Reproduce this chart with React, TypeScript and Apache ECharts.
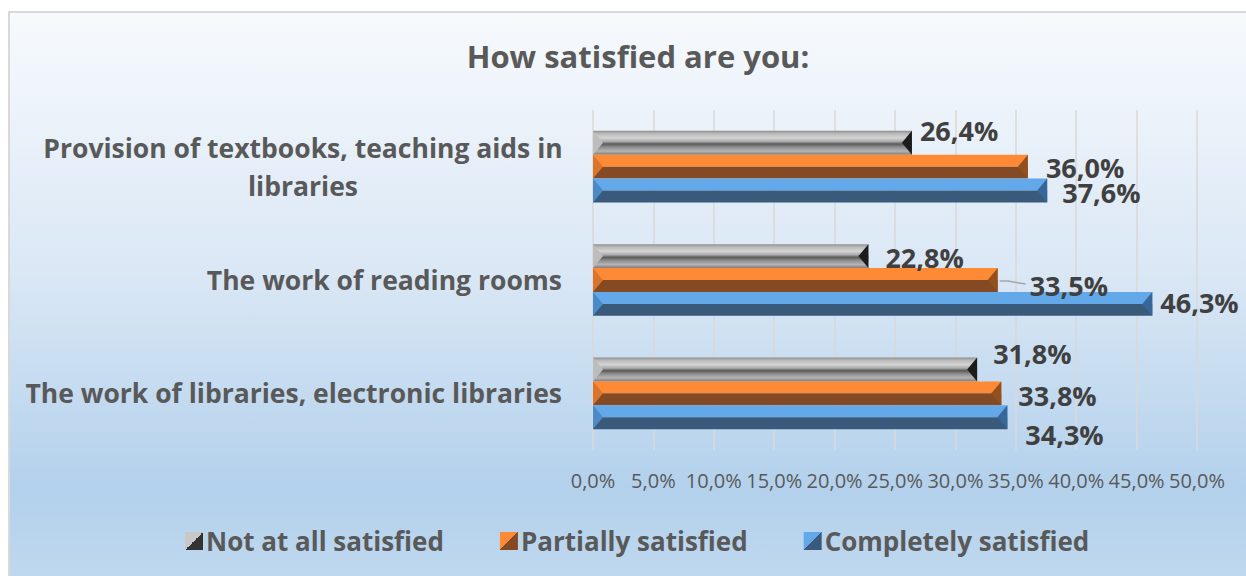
import React, { useEffect, useRef } from "react";
import * as echarts from "echarts";

const chartTitle = "How satisfied are you:";
const categories = [
  "Provision of textbooks, teaching aids in\nlibraries",
  "The work of reading rooms",
  "The work of libraries, electronic libraries",
];
const seriesNames = ["Not at all satisfied", "Partially satisfied", "Completely satisfied"];
const notAtAllSatisfied = [26.4, 22.8, 31.8];
const partiallySatisfied = [36.0, 33.5, 33.8];
const completelySatisfied = [37.6, 46.3, 34.3];
const axisMin = 0;
const axisMax = 50;
const axisStep = 5;

// label nudges (pixels) per series, per category, to mimic the hand-placed labels
const labelNudges = [
  [{ dx: 8, dy: -12 }, { dx: 17, dy: 1 }, { dx: 16, dy: -16 }],
  [{ dx: 18, dy: 1 }, { dx: 32, dy: 5, leader: true }, { dx: 17, dy: 2 }],
  [{ dx: 15, dy: 2 }, { dx: 8, dy: -1 }, { dx: 18, dy: 17 }],
];

const FONT = "'Open Sans', Lato, sans-serif";
const fmtPct = (v: number) => v.toFixed(1).replace(".", ",") + "%";

const grayGrad = () =>
  new echarts.graphic.LinearGradient(0, 0, 0, 1, [
    { offset: 0, color: "#8e8e8e" },
    { offset: 0.12, color: "#b9b9b9" },
    { offset: 0.3, color: "#d4d4d4" },
    { offset: 0.45, color: "#a9a9a9" },
    { offset: 0.55, color: "#5a5a5a" },
    { offset: 0.68, color: "#8c8c8c" },
    { offset: 0.85, color: "#b4b4b4" },
    { offset: 1, color: "#7c7c7c" },
  ]);

const palettes = [
  { top: null, bottom: null, left: "#bdbdbd", right: "#1c1c1c", legend: ["#c8c8c8", "#333333"] },
  { top: "#fe8a36", bottom: "#844a23", left: "#db752d", right: "#93501f", legend: ["#fe8a36", "#844a23"] },
  { top: "#63a8e8", bottom: "#3a5a7b", left: "#4b8ac6", right: "#37679a", legend: ["#63a8e8", "#3a5a7b"] },
];

const diagGrad = (c: string[]) =>
  new echarts.graphic.LinearGradient(0, 0, 1, 1, [
    { offset: 0, color: c[0] },
    { offset: 0.5, color: c[0] },
    { offset: 0.5, color: c[1] },
    { offset: 1, color: c[1] },
  ]);

const makeRender = (s: number) => (params: any, api: any) => {
  const val = api.value(0);
  const cat = api.value(1);
  const p0 = api.coord([0, cat]);
  const p1 = api.coord([val, cat]);
  const band = api.size([0, 1])[1];
  const h = band * 0.211;
  const top = p0[1] - 1.5 * h + s * h;
  const bot = top + h;
  const mid = top + h / 2;
  const x0 = p0[0];
  const x1 = p1[0];
  const e = 10;
  const pal = palettes[s];
  const children: any[] = [];
  if (s === 0) {
    children.push({ type: "rect", shape: { x: x0, y: top, width: x1 - x0, height: h }, style: { fill: grayGrad() } });
  } else {
    children.push({ type: "rect", shape: { x: x0, y: top, width: x1 - x0, height: h / 2 }, style: { fill: pal.top } });
    children.push({ type: "rect", shape: { x: x0, y: mid, width: x1 - x0, height: h / 2 }, style: { fill: pal.bottom } });
  }
  children.push({ type: "polygon", shape: { points: [[x0, top], [x0 + e, mid], [x0, bot]] }, style: { fill: pal.left } });
  children.push({ type: "polygon", shape: { points: [[x1, top], [x1 - e, mid], [x1, bot]] }, style: { fill: pal.right } });
  const n = labelNudges[s][cat] as any;
  const cy = (top + bot) / 2;
  if (n.leader) {
    children.push({
      type: "polyline",
      z2: 100,
      shape: { points: [[x1 + 2, cy + 1], [x1 + 10, cy + 1], [x1 + n.dx - 4, cy + n.dy - 1]] },
      style: { stroke: "#a6a6a6", lineWidth: 1.5, fill: "none" },
    });
  }
  children.push({
    type: "text",
    z2: 100,
    x: x1 + n.dx,
    y: cy + n.dy,
    style: {
      text: fmtPct(val),
      fill: "#404040",
      font: `bold 27px ${FONT}`,
      align: "left",
      verticalAlign: "middle",
    },
  });
  return { type: "group", children };
};

const seriesData = [notAtAllSatisfied, partiallySatisfied, completelySatisfied];

export default function App() {
  const ref = useRef<HTMLDivElement>(null);
  useEffect(() => {
    if (!ref.current) return;
    const chart = echarts.init(ref.current, undefined, { renderer: "svg" });
    chart.setOption({
      animation: false,
      backgroundColor: "#ffffff",
      graphic: [
        {
          type: "rect",
          z: -100,
          silent: true,
          shape: { x: 9, y: 12, width: 1260, height: 580 },
          style: {
            stroke: "#d9d9d9",
            lineWidth: 2,
            fill: new echarts.graphic.LinearGradient(0, 0, 0, 1, [
              { offset: 0, color: "#f7fafd" },
              { offset: 0.45, color: "#dae7f5" },
              { offset: 0.82, color: "#b3d1ec" },
              { offset: 1, color: "#c0d9ef" },
            ]),
          },
        },
      ],
      title: {
        text: chartTitle,
        left: 633,
        textAlign: "center",
        top: 35,
        textStyle: { fontFamily: FONT, fontSize: 31, fontWeight: "bold", color: "#595959" },
      },
      legend: {
        left: 180,
        top: 523,
        itemWidth: 18,
        itemHeight: 18,
        itemGap: 56,
        icon: "rect",
        textStyle: { fontFamily: FONT, fontSize: 26, fontWeight: "bold", color: "#595959", padding: [0, 0, 0, -2] },
        data: seriesNames.map((name, i) => ({ name, itemStyle: { color: diagGrad(palettes[i].legend) } })),
      },
      grid: { left: 593, right: 49, top: 110, bottom: 126, containLabel: false },
      xAxis: {
        type: "value",
        min: axisMin,
        max: axisMax,
        interval: axisStep,
        axisLine: { show: false },
        axisTick: { show: false },
        splitLine: { show: true, lineStyle: { color: "#d9d9d9", width: 1.5 } },
        axisLabel: {
          formatter: (v: number) => fmtPct(v),
          fontFamily: FONT,
          fontSize: 20,
          color: "#595959",
          margin: 20,
        },
      },
      yAxis: {
        type: "category",
        data: categories,
        inverse: true,
        axisLine: { show: false },
        axisTick: { show: false },
        axisLabel: {
          margin: 31,
          fontFamily: FONT,
          fontSize: 26.5,
          fontWeight: "bold",
          color: "#595959",
          lineHeight: 38,
          formatter: (v: string) =>
            v.includes("\n") ? v.split("\n").map((l) => `{w|${l}}`).join("\n") : v,
          rich: {
            w: {
              width: 518,
              align: "center",
              fontFamily: FONT,
              fontSize: 26.5,
              fontWeight: "bold",
              color: "#595959",
              lineHeight: 38,
            },
          },
        },
      },
      series: seriesData.map((vals, s) => ({
        type: "custom",
        name: seriesNames[s],
        coordinateSystem: "cartesian2d",
        encode: { x: 0, y: 1 },
        itemStyle: { color: diagGrad(palettes[s].legend) },
        renderItem: makeRender(s),
        data: vals.map((v, i) => [v, i]),
      })),
    });
    return () => chart.dispose();
  }, []);
  return (
    <div
      ref={ref}
      style={{ position: "absolute", left: 0, top: 0, width: 1246, height: 576 }}
    />
  );
}
